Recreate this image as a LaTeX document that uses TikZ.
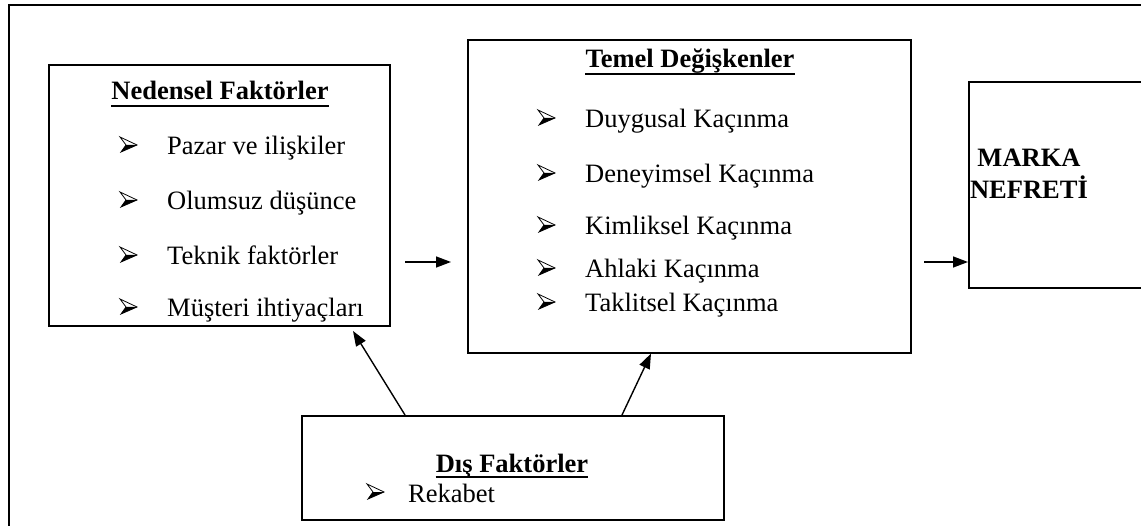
\documentclass[tikz,border=0pt]{standalone}
\usepackage{fontspec}
\setmainfont{Liberation Serif}
\usetikzlibrary{arrows.meta}
\begin{document}
\begin{tikzpicture}[x=1pt,y=-1pt,
  box/.style={draw,line width=1.6pt,inner sep=0,anchor=north west},
  txt/.style={anchor=base west,inner sep=0,font=\fontsize{26.5}{30}\selectfont},
  head/.style={anchor=base,inner sep=0,font=\fontsize{26.5}{30}\selectfont\bfseries},
  uline/.style={line width=1.8pt},
  conn/.style={line width=1.4pt,-{Triangle[length=15pt,width=11pt]}},
  arrowbul/.pic={
    \fill[black] (6,-10) -- (17,-10) -- (1,-3) -- cycle;
    \draw[line width=0.8pt,line join=miter] (0,-18) -- (17,-10) -- (1,-3) -- (6,-10) -- cycle;
  }]
\clip (0,0) rectangle (1141,526);
% outer frame
\draw[line width=2pt] (9,535) -- (9,5) -- (1150,5);

% boxes
\node[box,minimum width=341,minimum height=261] (ned) at (48,64) {};
\node[box,minimum width=443,minimum height=313] (tem) at (467,39) {};
\node[box,minimum width=200,minimum height=206] (mar) at (968,81) {};
\node[box,minimum width=422,minimum height=104] (dis) at (301,415) {};

% causal factors
\node[head] (nedh) at (220,100) {Nedensel Faktörler};
\draw[uline] ([yshift=-6pt]nedh.base west) -- ([yshift=-6pt]nedh.base east);
\foreach \y/\t [count=\i] in {155/Pazar ve ilişkiler,210/Olumsuz düşünce,265/Teknik faktörler,317/Müşteri ihtiyaçları}{
  \pic at (120,\y) {arrowbul};
  \node[txt] (nedt\i) at (167,\y) {\t};
}

% core variables
\node[head] (temh) at (690,68) {Temel Değişkenler};
\draw[uline] ([yshift=-6pt]temh.base west) -- ([yshift=-6pt]temh.base east);
\foreach \y/\t [count=\i] in {128/Duygusal Kaçınma,183/Deneyimsel Kaçınma,235/Kimliksel Kaçınma,278/Ahlaki Kaçınma,312/Taklitsel Kaçınma}{
  \pic at (538,\y) {arrowbul};
  \node[txt] (temt\i) at (585,\y) {\t};
}

% brand hate
\node[head] (mar1) at (1029,167) {MARKA};
\node[head] (mar2) at (1029,199) {NEFRETİ};

% external factors
\node[head] (dish) at (512,472) {Dış Faktörler};
\draw[uline] ([yshift=-5pt]dish.base west) -- ([yshift=-5pt]dish.base east);
\pic at (367,502) {arrowbul};
\node[txt] (dist) at (408,502) {Rekabet};

% connectors
\coordinate (a1s) at (405,262);
\coordinate (a1e) at (451,262);
\draw[conn] (a1s) -- (a1e);
\coordinate (a2s) at (924,262);
\draw[conn] (a2s) -- (mar.west |- a2s);
\coordinate (a3e) at (353,331);
\draw[conn] (dis.north -| 405,0) -- (a3e);
\draw[conn] (dis.north -| 622,0) -- (tem.south -| 651,0);
\end{tikzpicture}
\end{document}
